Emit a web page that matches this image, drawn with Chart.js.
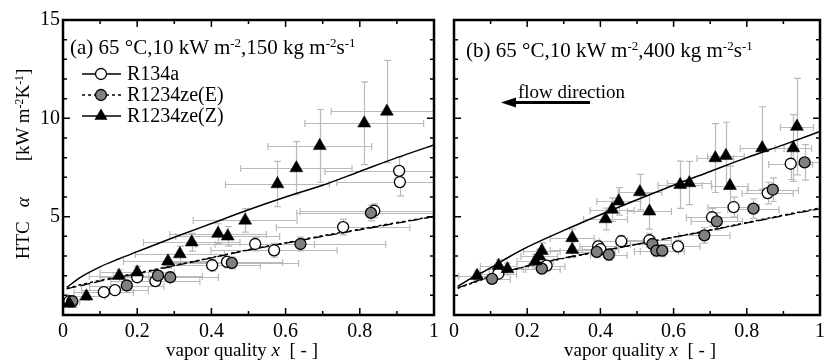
<!DOCTYPE html>
<html><head><meta charset="utf-8">
<script src="https://cdn.jsdelivr.net/npm/chart.js@4.4.0/dist/chart.umd.min.js"></script>
<style>
html,body{margin:0;padding:0;background:#fff;}
#wrap{position:relative;width:830px;height:363px;overflow:hidden;font-family:"Liberation Serif","Times New Roman",serif;color:#000;}
canvas{position:absolute;top:0;}
.t{position:absolute;white-space:nowrap;line-height:1;font-size:19px;}
.lg{font-size:20px;}
.hd{font-size:21px;}
sup{font-size:0.62em;vertical-align:0;position:relative;top:-0.55em;}
</style></head><body>
<div id="wrap">
<canvas id="ca" width="444" height="363" style="left:0px"></canvas>
<canvas id="cb" width="386" height="363" style="left:444px"></canvas>
<div class="t hd" style="left:70px;top:37px">(a) 65 °C,10 kW m<sup>-2</sup>,150 kg m<sup>-2</sup>s<sup>-1</sup></div>
<div class="t hd" style="left:466px;top:40px">(b) 65 °C,10 kW m<sup>-2</sup>,400 kg m<sup>-2</sup>s<sup>-1</sup></div>
<div class="t lg" style="left:127px;top:63px">R134a</div>
<div class="t lg" style="left:127px;top:84px">R1234ze(E)</div>
<div class="t lg" style="left:127px;top:105px">R1234ze(Z)</div>
<div class="t" style="left:518px;top:82px">flow direction</div>
<svg style="position:absolute;left:0;top:0" width="830" height="363">
  <line x1="512" y1="102.5" x2="590" y2="102.5" stroke="#000" stroke-width="3"/>
  <polygon points="501,102.5 516,97.5 516,107.5" fill="#000"/>
</svg>
<div class="t" style="left:242px;top:340px;transform:translateX(-50%)">vapor quality <i>x</i>&nbsp; [ - ]</div>
<div class="t" style="left:640px;top:340px;transform:translateX(-50%)">vapor quality <i>x</i>&nbsp; [ - ]</div>
<div class="t" style="left:22px;top:164px;transform:translate(-50%,-50%) rotate(-90deg)">HTC<span style="display:inline-block;width:14px"></span><i>α</i><span style="display:inline-block;width:36px"></span>[kW m<sup>-2</sup>K<sup>-1</sup>]</div>
</div>
<script>
// ---------- axis ticks ----------
const xTicks = [0, 0.2, 0.4, 0.6, 0.8, 1];
const xMinorTicks = [0.1, 0.3, 0.5, 0.7, 0.9];
const yTicks = [5, 10, 15];
const yMajorMarks = [0, 5, 10, 15];
const yMinorTicks = [1, 2, 3, 4, 6, 7, 8, 9, 11, 12, 13, 14];

// ---------- correlation curves ----------
const curveX = [0.01, 0.05, 0.1, 0.15, 0.2, 0.3, 0.4, 0.5, 0.6, 0.7, 0.8, 0.9, 1.0];
const aCurveZ    = [1.40, 1.95, 2.45, 2.85, 3.22, 3.95, 4.65, 5.35, 6.00, 6.60, 7.30, 8.00, 8.65];
const aCurve134a = [1.33, 1.50, 1.72, 1.92, 2.10, 2.50, 2.90, 3.30, 3.65, 4.00, 4.33, 4.67, 5.00];
const aCurveE    = [1.35, 1.55, 1.76, 1.95, 2.13, 2.52, 2.92, 3.32, 3.67, 4.03, 4.36, 4.70, 5.02];
const bCurveZ    = [1.46, 1.90, 2.40, 2.95, 3.45, 4.30, 5.10, 5.86, 6.60, 7.30, 8.00, 8.65, 9.33];
const bCurve134a = [1.38, 1.65, 1.97, 2.25, 2.50, 2.90, 3.25, 3.60, 3.95, 4.30, 4.68, 5.05, 5.40];
const bCurveE    = [1.36, 1.62, 1.95, 2.23, 2.48, 2.88, 3.24, 3.60, 3.96, 4.32, 4.70, 5.08, 5.44];

// ---------- panel (a) measurements ----------
const a134aX  = [0.017, 0.11, 0.14, 0.20, 0.249, 0.402, 0.442, 0.518, 0.569, 0.755, 0.839, 0.906, 0.908];
const a134aY  = [0.70, 1.16, 1.26, 1.92, 1.72, 2.53, 2.70, 3.61, 3.29, 4.47, 5.30, 7.33, 6.76];
const a134aEx = [0.02, 0.08, 0.09, 0.10, 0.12, 0.13, 0.15, 0.16, 0.17, 0.18, 0.20, 0.20, 0.17];
const a134aEy = [0.15, 0.20, 0.20, 0.25, 0.25, 0.30, 0.30, 0.35, 0.35, 0.40, 0.35, 0.70, 0.70];
const aEX  = [0.025, 0.172, 0.256, 0.289, 0.455, 0.64, 0.83];
const aEY  = [0.70, 1.50, 2.00, 1.92, 2.65, 3.61, 5.19];
const aEEx = [0.02, 0.10, 0.12, 0.13, 0.18, 0.23, 0.20];
const aEEy = [0.15, 0.20, 0.25, 0.25, 0.30, 0.35, 0.40];
const aZX  = [0.017, 0.063, 0.151, 0.20, 0.283, 0.315, 0.347, 0.418, 0.444, 0.491, 0.578, 0.629, 0.692, 0.812, 0.873];
const aZY  = [0.58, 0.95, 2.00, 2.17, 2.73, 3.10, 3.70, 4.14, 4.00, 4.81, 6.66, 7.47, 8.60, 9.75, 10.35];
const aZEx = [0.02, 0.05, 0.08, 0.10, 0.12, 0.12, 0.13, 0.13, 0.14, 0.14, 0.14, 0.15, 0.14, 0.16, 0.15];
const aZEy = [0.15, 0.20, 0.30, 0.30, 0.35, 0.40, 0.45, 0.50, 0.50, 0.60, 1.15, 1.35, 1.85, 2.10, 2.60];

// ---------- panel (b) measurements ----------
const b134aX  = [0.121, 0.253, 0.394, 0.40, 0.457, 0.534, 0.612, 0.705, 0.764, 0.857, 0.92];
const b134aY  = [2.10, 2.51, 3.49, 3.35, 3.75, 3.80, 3.49, 4.97, 5.49, 6.20, 7.69];
const b134aEx = [0.05, 0.05, 0.05, 0.05, 0.06, 0.06, 0.06, 0.07, 0.07, 0.07, 0.06];
const b134aEy = [0.20, 0.25, 0.30, 0.30, 0.30, 0.35, 0.30, 0.45, 0.50, 0.55, 0.80];
const bEX  = [0.104, 0.24, 0.39, 0.423, 0.542, 0.553, 0.569, 0.684, 0.718, 0.818, 0.871, 0.958];
const bEY  = [1.84, 2.36, 3.21, 3.07, 3.61, 3.27, 3.27, 4.05, 4.76, 5.41, 6.37, 7.76];
const bEEx = [0.05, 0.05, 0.05, 0.05, 0.06, 0.06, 0.06, 0.07, 0.07, 0.07, 0.07, 0.05];
const bEEy = [0.20, 0.25, 0.30, 0.30, 0.35, 0.30, 0.30, 0.40, 0.45, 0.50, 0.60, 0.90];
const bZX  = [0.063, 0.122, 0.146, 0.222, 0.233, 0.24, 0.323, 0.323, 0.414, 0.432, 0.45, 0.508, 0.534, 0.618, 0.643, 0.714, 0.743, 0.754, 0.842, 0.927, 0.937];
const bZY  = [2.00, 2.51, 2.34, 2.73, 2.99, 3.27, 3.92, 3.32, 4.88, 5.36, 5.78, 6.25, 5.27, 6.62, 6.71, 7.98, 8.10, 6.57, 8.49, 8.49, 9.58];
const bZEx = [0.05, 0.05, 0.05, 0.05, 0.05, 0.05, 0.06, 0.06, 0.06, 0.06, 0.06, 0.06, 0.06, 0.06, 0.06, 0.05, 0.05, 0.05, 0.06, 0.05, 0.045];
const bZEy = [0.25, 0.30, 0.30, 0.35, 0.35, 0.40, 0.45, 0.40, 0.55, 0.60, 0.70, 0.90, 0.90, 1.20, 1.10, 1.75, 1.70, 1.00, 2.10, 1.70, 2.45];

const FONT = '"Liberation Serif","Times New Roman",serif';
const zip = (xs, ys) => xs.map((v, i) => ({x: v, y: ys[i]}));

const errorBars = {
  id: 'errorBars',
  beforeDatasetsDraw(chart) {
    const {ctx, chartArea: a, scales: {x, y}} = chart;
    ctx.save();
    ctx.beginPath(); ctx.rect(a.left, a.top, a.right - a.left, a.bottom - a.top); ctx.clip();
    ctx.strokeStyle = '#bababa'; ctx.lineWidth = 1.2;
    chart.data.datasets.forEach(ds => {
      if (!ds.errX) return;
      ds.data.forEach((p, i) => {
        const px = Math.round(x.getPixelForValue(p.x)) + 0.5, py = Math.round(y.getPixelForValue(p.y)) + 0.5;
        const x0 = x.getPixelForValue(p.x - ds.errX[i]), x1 = x.getPixelForValue(p.x + ds.errX[i]);
        const y0 = y.getPixelForValue(p.y - ds.errY[i]), y1 = y.getPixelForValue(p.y + ds.errY[i]);
        ctx.beginPath();
        ctx.moveTo(x0, py); ctx.lineTo(x1, py);
        ctx.moveTo(x0, py - 3.5); ctx.lineTo(x0, py + 3.5);
        ctx.moveTo(x1, py - 3.5); ctx.lineTo(x1, py + 3.5);
        ctx.moveTo(px, y0); ctx.lineTo(px, y1);
        ctx.moveTo(px - 3.5, y0); ctx.lineTo(px + 3.5, y0);
        ctx.moveTo(px - 3.5, y1); ctx.lineTo(px + 3.5, y1);
        ctx.stroke();
      });
    });
    ctx.restore();
  }
};

const frame = {
  id: 'frame',
  afterDraw(chart) {
    const {ctx, chartArea: a, scales: {x, y}} = chart;
    ctx.save();
    ctx.strokeStyle = '#000'; ctx.lineWidth = 1.5;
    ctx.beginPath();
    const tick = (vals, len, horiz) => vals.forEach(v => {
      if (horiz) {
        const px = x.getPixelForValue(v);
        ctx.moveTo(px, a.bottom); ctx.lineTo(px, a.bottom - len);
        ctx.moveTo(px, a.top); ctx.lineTo(px, a.top + len);
      } else {
        const py = y.getPixelForValue(v);
        ctx.moveTo(a.left, py); ctx.lineTo(a.left + len, py);
        ctx.moveTo(a.right, py); ctx.lineTo(a.right - len, py);
      }
    });
    tick(xTicks, 7, true); tick(xMinorTicks, 4, true);
    tick(yMajorMarks, 7, false); tick(yMinorTicks, 4, false);
    ctx.stroke();
    ctx.lineWidth = 2.5;
    ctx.strokeRect(a.left, a.top, a.right - a.left, a.bottom - a.top);
    ctx.restore();
  }
};

const legendSymbols = {
  id: 'legendSymbols',
  afterDraw(chart) {
    const ctx = chart.ctx;
    const rows = [
      {y: 74, dash: [], style: 'circle', fill: '#fff'},
      {y: 95, dash: [3, 3], style: 'circle', fill: '#808080'},
      {y: 116, dash: [], style: 'triangle', fill: '#000'}
    ];
    ctx.save();
    rows.forEach(r => {
      ctx.strokeStyle = '#000'; ctx.lineWidth = 1.5; ctx.setLineDash(r.dash);
      ctx.beginPath(); ctx.moveTo(82, r.y); ctx.lineTo(121, r.y); ctx.stroke();
      ctx.setLineDash([]);
      ctx.fillStyle = r.fill; ctx.lineWidth = 1.3;
      ctx.beginPath();
      if (r.style === 'circle') { ctx.arc(101, r.y, 5.5, 0, Math.PI * 2); ctx.fill(); ctx.stroke(); }
      else { ctx.moveTo(101, r.y - 7.5); ctx.lineTo(107.5, r.y + 3.75); ctx.lineTo(94.5, r.y + 3.75); ctx.closePath(); ctx.fill(); }
    });
    ctx.restore();
  }
};

function curve(data, dash, width) {
  return {data: zip(curveX, data), showLine: true, pointRadius: 0, borderColor: '#000', borderWidth: width,
          borderDash: dash, cubicInterpolationMode: 'monotone', fill: false, order: 10};
}
function pts(xs, ys, ex, ey, kind) {
  const base = {data: zip(xs, ys), errX: ex, errY: ey, showLine: false, borderColor: '#000'};
  if (kind === 'open') return Object.assign(base, {pointStyle: 'circle', pointRadius: 5.5, pointBackgroundColor: '#fff', pointBorderWidth: 1.3, order: 3});
  if (kind === 'gray') return Object.assign(base, {pointStyle: 'circle', pointRadius: 5.5, pointBackgroundColor: '#808080', pointBorderWidth: 1.3, order: 2});
  return Object.assign(base, {pointStyle: 'triangle', pointRadius: 7.5, pointBackgroundColor: '#000', pointBorderWidth: 0.5, order: 1});
}

function makeChart(id, datasets, yAxisWidth, padRight, showY, extraPlugins) {
  return new Chart(document.getElementById(id), {
    type: 'scatter',
    data: {datasets},
    plugins: [errorBars, frame].concat(extraPlugins),
    options: {
      responsive: false, animation: false, devicePixelRatio: 1,
      layout: {padding: {left: 0, right: padRight, top: 20, bottom: 0}},
      plugins: {legend: {display: false}, tooltip: {enabled: false}},
      scales: {
        x: {
          type: 'linear', min: 0, max: 1,
          afterBuildTicks: s => { s.ticks = xTicks.map(v => ({value: v})); },
          afterFit: s => { s.height = 48; },
          grid: {display: false, drawTicks: false}, border: {display: false},
          ticks: {font: {family: FONT, size: 20}, color: '#000', padding: 5, maxRotation: 0, autoSkip: false,
                  callback: v => String(v)}
        },
        y: {
          type: 'linear', min: 0, max: 15,
          afterBuildTicks: s => { s.ticks = yTicks.map(v => ({value: v})); },
          afterFit: s => { s.width = yAxisWidth; },
          grid: {display: false, drawTicks: false}, border: {display: false},
          ticks: {display: showY, font: {family: FONT, size: 20}, color: '#000', padding: 3, autoSkip: false,
                  callback: v => String(v)}
        }
      }
    }
  });
}

makeChart('ca', [
  curve(aCurveZ, [], 1.5), curve(aCurve134a, [10, 4], 1.3), curve(aCurveE, [3, 3], 1.5),
  pts(a134aX, a134aY, a134aEx, a134aEy, 'open'),
  pts(aEX, aEY, aEEx, aEEy, 'gray'),
  pts(aZX, aZY, aZEx, aZEy, 'tri')
], 63, 7, true, [legendSymbols]);

makeChart('cb', [
  curve(bCurveZ, [], 1.5), curve(bCurve134a, [10, 4], 1.3), curve(bCurveE, [3, 3], 1.5),
  pts(b134aX, b134aY, b134aEx, b134aEy, 'open'),
  pts(bEX, bEY, bEEx, bEEy, 'gray'),
  pts(bZX, bZY, bZEx, bZEy, 'tri')
], 7, 6, false, []);
</script>
</body></html>
